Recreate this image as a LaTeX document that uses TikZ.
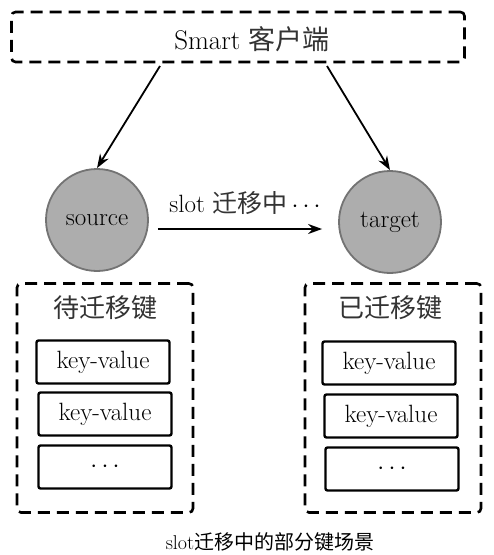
\documentclass[tikz,border=0pt]{standalone}
\usepackage{fontspec}
\newfontfamily\cjk{Noto Sans CJK SC}
\usetikzlibrary{arrows.meta}
\begin{document}
\begin{tikzpicture}[x=1pt,y=-1pt,
  dashbox/.style={draw, line width=2.6pt, dash pattern=on 12pt off 7pt, rounded corners=4pt},
  kvbox/.style={draw, line width=2.4pt, rounded corners=2pt, minimum width=133pt, minimum height=43pt, inner sep=0pt, font=\fontsize{25}{28}\selectfont},
  server/.style={circle, draw=black!55, fill=black!32, line width=1.8pt, minimum size=102pt, inner sep=0pt, font=\fontsize{25}{28}\selectfont},
  conn/.style={line width=1.8pt, -{Stealth[length=14pt,width=10pt]}},
  lbl/.style={font=\fontsize{25}{28}\selectfont}]
\useasboundingbox (0,0) rectangle (494,555);
\fill[white] (0,0) rectangle (494,555);
% top client box
\node[dashbox, minimum width=453pt, minimum height=50pt, inner sep=0pt] (client) at (238,37) {};
\node[font=\fontsize{27}{30}\selectfont] (clienttext) at (252,39) {Smart {\cjk\color{black!80} 客户端}};
% servers
\node[server] (source) at (97,220) {source};
\node[server] (target) at (390,222) {target};
\coordinate (c1) at (160,66);
\coordinate (c2) at (327,66);
\draw[conn] (c1) -- (source.north);
\draw[conn] (c2) -- (target.north);
\draw[conn] ([shift={(9,9)}]source.east) -- ([shift={(-16,7)}]target.west);
\node[lbl] (mig) at (245,203) {slot {\cjk\color{black!80} 迁移中}\,$\cdots$};
% left group
\node[dashbox, minimum width=176pt, minimum height=229pt, inner sep=0pt] (leftgrp) at (105,398) {};
\node[font=\fontsize{26}{28}\selectfont] (lt) at (105,308) {\cjk\color{black!80}待迁移键};
\node[kvbox] (l1) at (103,362) {key-value};
\node[kvbox] (l2) at (105,414) {key-value};
\node[kvbox] (l3) at (105,467) {$\cdots$};
% right group
\node[dashbox, minimum width=176pt, minimum height=229pt, inner sep=0pt] (rightgrp) at (393,398) {};
\node[font=\fontsize{26}{28}\selectfont] (rt) at (390,308) {\cjk\color{black!80}已迁移键};
\node[kvbox] (r1) at (389,363) {key-value};
\node[kvbox] (r2) at (391,416) {key-value};
\node[kvbox] (r3) at (392,469) {$\cdots$};
% caption
\node[font=\fontsize{20}{22}\selectfont] (cap) at (270,542) {slot{\cjk 迁移中的部分键场景}};
\end{tikzpicture}
\end{document}
